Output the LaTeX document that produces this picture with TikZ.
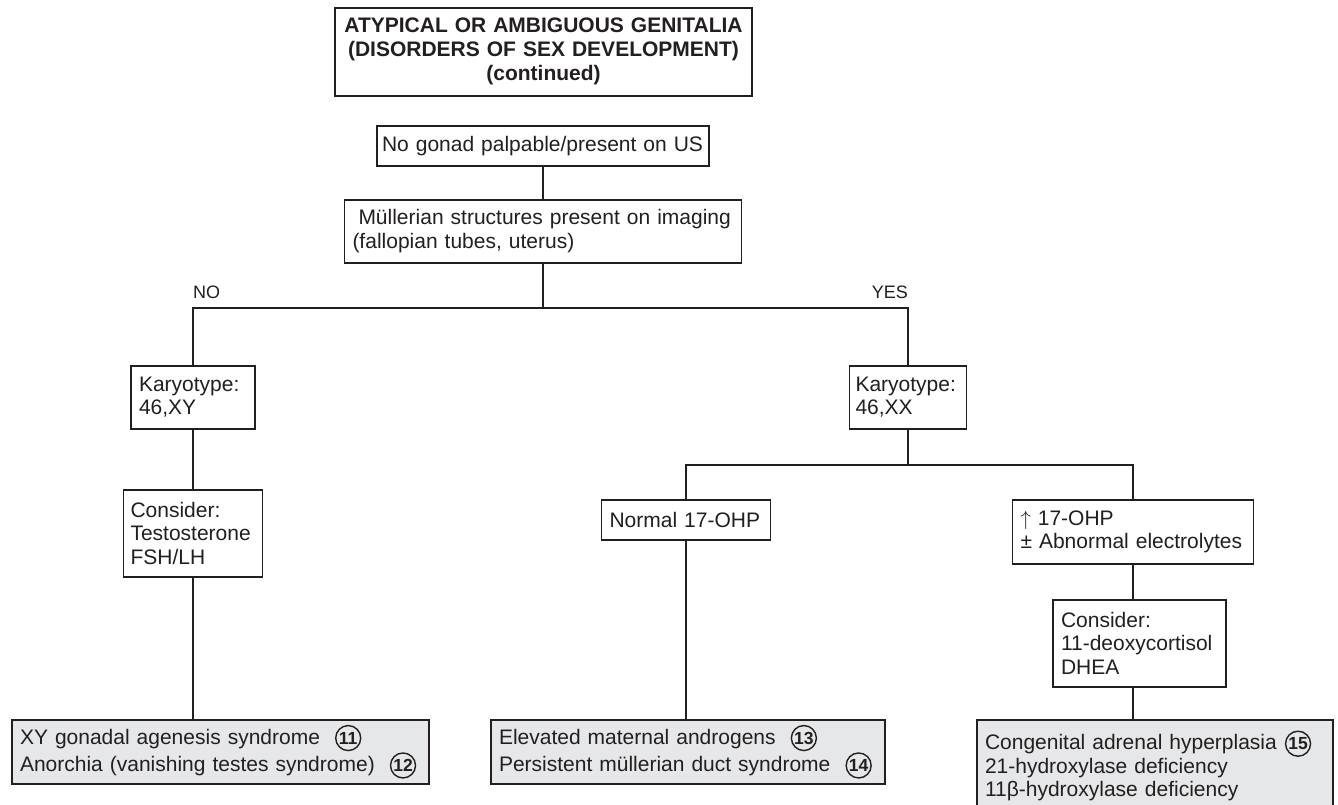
\documentclass[tikz,border=0pt]{standalone}
\usepackage{fontspec}
\setmainfont{Liberation Sans}
\definecolor{ink}{HTML}{231F20}
\definecolor{boxfill}{HTML}{E6E7E8}
\newcommand{\cnum}[1]{\tikz[baseline=(cn.base)]\node[circle,draw=ink,line width=1.4pt,inner sep=0pt,minimum size=25pt,text=ink,font=\bfseries\fontsize{17.5}{17.5}\selectfont] (cn) {#1};}
\begin{document}
\begin{tikzpicture}[x=1pt,y=-1pt,
  box/.style={draw=ink, line width=1.5pt, text=ink, align=left, inner xsep=8pt, inner ysep=0pt, anchor=north, font=\fontsize{21}{23.5}\selectfont},
  result/.style={box, fill=boxfill},
  conn/.style={draw=ink, line width=2pt},
  lbl/.style={text=ink, inner sep=0pt, font=\fontsize{18}{18}\selectfont}]
\path[use as bounding box, clip] (0,0) rectangle (1338,804);
\fill[white] (0,0) rectangle (1338,804);

\node[box, align=center, text width=401pt, minimum height=88pt, font=\bfseries\fontsize{21}{24}\selectfont] (title) at (543.5,7)
  {ATYPICAL OR AMBIGUOUS GENITALIA\\(DISORDERS OF SEX DEVELOPMENT)\\(continued)};
\node[box, inner xsep=5pt, text width=322pt, minimum height=40pt] (nogonad) at (543,125) {No gonad palpable/present on US};
\node[box, text width=381pt, minimum height=63pt] (mull) at (543,199)
  {\hspace*{6pt}Müllerian structures present on imaging\\(fallopian tubes, uterus)};
\node[lbl, anchor=base west] (no) at (193,298) {NO};
\node[lbl, anchor=base east] (yes) at (908,298) {YES};

\node[box, text width=108pt, minimum height=63pt] (kxy) at (193,365) {Karyotype:\\46,XY};
\node[box, inner xsep=7pt, text width=125pt, minimum height=87pt] (consxy) at (193,489) {Consider:\\Testosterone\\FSH/LH};
\node[result, text width=401pt, minimum height=64pt] (bl) at (220.5,719)
  {XY gonadal agenesis syndrome\hspace{15pt}\cnum{11}\\Anorchia (vanishing testes syndrome)\hspace{15pt}\cnum{12}};

\node[box, inner xsep=6pt, text width=105pt, minimum height=63pt] (kxx) at (908,365) {Karyotype:\\46,XX};
\node[box, text width=153pt, minimum height=40pt] (normal) at (686,499) {Normal 17-OHP};
\node[result, text width=378pt, minimum height=64pt] (bm) at (688,719)
  {Elevated maternal androgens\hspace{15pt}\cnum{13}\\Persistent müllerian duct syndrome\hspace{15pt}\cnum{14}};
\node[box, text width=225pt, minimum height=64pt] (up) at (1133,499) {$\uparrow$ 17-OHP\\± Abnormal electrolytes};
\node[box, text width=157pt, minimum height=87pt] (consxx) at (1139.5,599) {Consider:\\11-deoxycortisol\\DHEA};
\node[result, text width=340pt, minimum height=92pt] (br) at (1155,719)
  {Congenital adrenal hyperplasia\hspace{8pt}\cnum{15}\\21-hydroxylase deficiency\\11β-hydroxylase deficiency};

\coordinate (j1) at (543,308);
\coordinate (j2) at (908,465);
\draw[conn] (nogonad.south) -- (mull.north);
\draw[conn] (mull.south) -- (j1);
\draw[conn] (kxy.north) |- (j1) -| (kxx.north);
\draw[conn] (kxy.south) -- (consxy.north);
\draw[conn] (consxy.south) -- (consxy.south |- bl.north);
\draw[conn] (kxx.south) -- (j2);
\draw[conn] (normal.north) |- (j2) -| (up.north);
\draw[conn] (normal.south) -- (normal.south |- bm.north);
\draw[conn] (up.south) -- (up.south |- consxx.north);
\draw[conn] (up.south |- consxx.south) -- (up.south |- br.north);
\end{tikzpicture}
\end{document}
